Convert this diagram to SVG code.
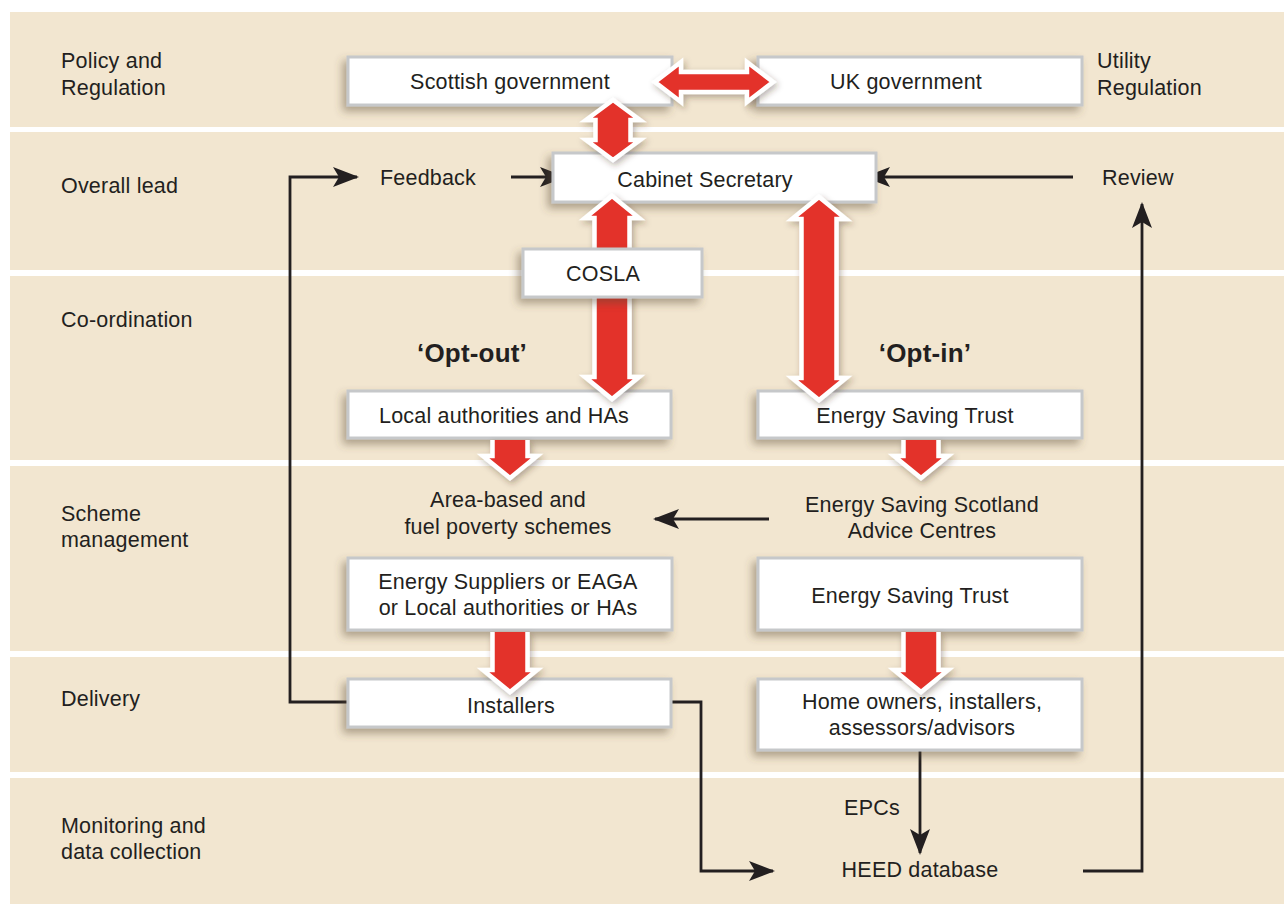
<svg xmlns="http://www.w3.org/2000/svg" width="1285" height="904" viewBox="0 0 1285 904">
<defs>
<style>
.band{fill:#f2e6d0}
.box{fill:#ffffff;stroke:#c6c8ca;stroke-width:3;filter:url(#sh)}
.t{font-family:"Liberation Sans",Arial,Helvetica,sans-serif;font-size:21.5px;fill:#231f20;letter-spacing:0.2px}
.c{text-anchor:middle}
.b{font-weight:bold;font-size:26px}
.red{fill:#e3312b;stroke:#ffffff;stroke-width:4.5;stroke-linejoin:miter;filter:url(#ash)}
.con{fill:none;stroke:#231f20;stroke-width:2.8;marker-end:url(#ah)}
</style>
<filter id="sh" x="-20%" y="-40%" width="140%" height="190%">
<feDropShadow dx="-4" dy="5" stdDeviation="4" flood-color="#5a4a30" flood-opacity="0.45"/>
</filter>
<filter id="ash" x="-40%" y="-40%" width="180%" height="180%">
<feDropShadow dx="2" dy="3" stdDeviation="3" flood-color="#3a2e20" flood-opacity="0.35"/>
</filter>
<marker id="ah" markerUnits="userSpaceOnUse" markerWidth="28" markerHeight="22" refX="24" refY="10" orient="auto">
<path d="M0,0 L26,10 L0,20 L6,10 Z" fill="#231f20"/>
</marker>
</defs>
<rect width="1285" height="904" fill="#ffffff"/>
<g id="bands">
<rect class="band" x="10" y="12" width="1274" height="115"/>
<rect class="band" x="10" y="132" width="1274" height="138"/>
<rect class="band" x="10" y="276" width="1274" height="184"/>
<rect class="band" x="10" y="466" width="1274" height="185"/>
<rect class="band" x="10" y="657" width="1274" height="115"/>
<rect class="band" x="10" y="778" width="1274" height="126"/>
</g>
<g id="row-labels">
<text class="t" x="61" y="68">Policy and</text>
<text class="t" x="61" y="95">Regulation</text>
<text class="t" x="61" y="193">Overall lead</text>
<text class="t" x="61" y="327">Co-ordination</text>
<text class="t" x="61" y="521">Scheme</text>
<text class="t" x="61" y="547">management</text>
<text class="t" x="61" y="706">Delivery</text>
<text class="t" x="61" y="833">Monitoring and</text>
<text class="t" x="61" y="859">data collection</text>
<text class="t" x="1097" y="68">Utility</text>
<text class="t" x="1097" y="95">Regulation</text>
</g>
<g id="connectors">
<path class="con" d="M348,702 H290 V177 H357"/>
<path class="con" d="M511,177 H564"/>
<path class="con" d="M1073,177 H866"/>
<path class="con" d="M1083,871 H1142 V204"/>
<path class="con" d="M672,702 H701 V871 H773"/>
<path class="con" d="M920,751 V853"/>
<path class="con" d="M769,519 H655"/>
</g>
<g id="n-scottish"><rect class="box" x="348" y="57" width="324" height="48"/><text class="t c" x="510" y="89">Scottish government</text></g>
<g id="n-uk"><rect class="box" x="758" y="57" width="324" height="48"/><text class="t c" x="906" y="89">UK government</text></g>
<g id="n-cabinet"><rect class="box" x="553" y="153" width="323" height="49"/><text class="t c" x="705" y="187">Cabinet Secretary</text></g>
<g id="n-la"><rect class="box" x="348" y="391" width="323" height="47"/><text class="t c" x="504" y="423">Local authorities and HAs</text></g>
<g id="n-est1"><rect class="box" x="758" y="391" width="324" height="47"/><text class="t c" x="915" y="423">Energy Saving Trust</text></g>
<g id="n-suppliers"><rect class="box" x="348" y="558" width="324" height="72"/><text class="t c" x="508" y="589">Energy Suppliers or EAGA</text><text class="t c" x="508" y="615">or Local authorities or HAs</text></g>
<g id="n-est2"><rect class="box" x="758" y="558" width="324" height="72"/><text class="t c" x="910" y="603">Energy Saving Trust</text></g>
<g id="n-installers"><rect class="box" x="348" y="679" width="323" height="48"/><text class="t c" x="511" y="713">Installers</text></g>
<g id="n-home"><rect class="box" x="758" y="679" width="324" height="71"/><text class="t c" x="922" y="709">Home owners, installers,</text><text class="t c" x="922" y="735">assessors/advisors</text></g>
<g id="red-arrows">
<path class="red" d="M655,82 L681,62 L681,72 L747,72 L747,62 L773,82 L747,102 L747,92 L681,92 L681,102 Z"/>
<path class="red" d="M613,100 L640,120 L630.5,120 L630.5,140 L640,140 L613,160 L586,140 L595.5,140 L595.5,120 L586,120 Z"/>
<path class="red" d="M612,196 L639,218 L629.5,218 L629.5,377 L639,377 L612,399 L585,377 L594.5,377 L594.5,218 L585,218 Z"/>
<path class="red" d="M819,197 L846,219 L836.5,219 L836.5,378 L846,378 L819,400 L792,378 L801.5,378 L801.5,219 L792,219 Z"/>
<path class="red" d="M492.5,440 L492.5,456 L483,456 L510,478 L537,456 L527.5,456 L527.5,440"/>
<path class="red" d="M903.5,440 L903.5,456 L894,456 L921,478 L948,456 L938.5,456 L938.5,440"/>
<path class="red" d="M492.5,632 L492.5,670 L483,670 L510,692 L537,670 L527.5,670 L527.5,632"/>
<path class="red" d="M903.5,632 L903.5,670 L894,670 L921,692 L948,670 L938.5,670 L938.5,632"/>
</g>
<g id="n-cosla"><rect class="box" x="523" y="249" width="179" height="48"/><text class="t c" x="603" y="281">COSLA</text></g>
<g id="labels">
<text class="t" x="380" y="185">Feedback</text>
<text class="t" x="1102" y="185">Review</text>
<text class="t b c" x="472" y="362">‘Opt-out’</text>
<text class="t b c" x="925" y="362">‘Opt-in’</text>
<text class="t c" x="508" y="507">Area-based and</text>
<text class="t c" x="508" y="534">fuel poverty schemes</text>
<text class="t c" x="922" y="512">Energy Saving Scotland</text>
<text class="t c" x="922" y="538">Advice Centres</text>
<text class="t c" x="872" y="815">EPCs</text>
<text class="t c" x="920" y="877">HEED database</text>
</g>
</svg>
